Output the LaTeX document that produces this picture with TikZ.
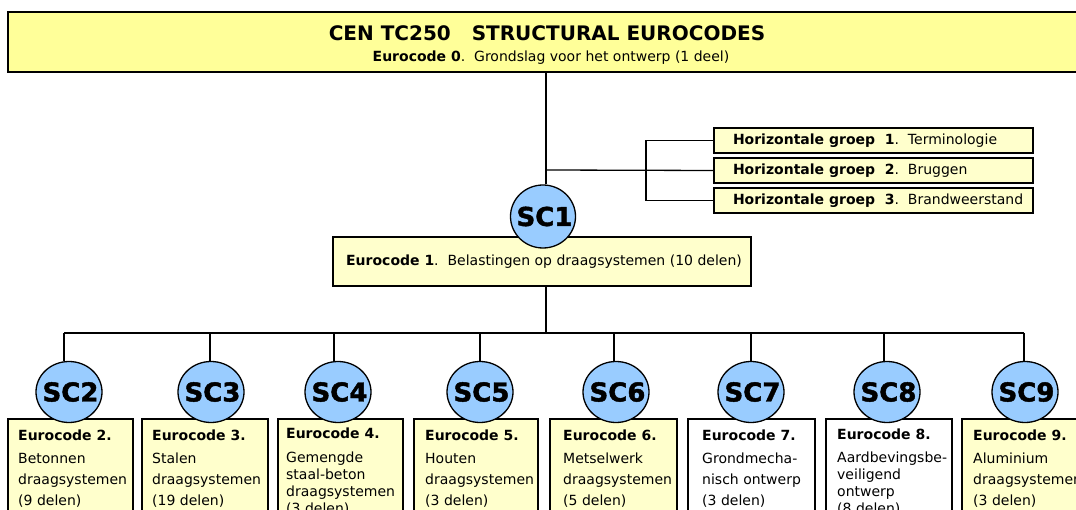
\documentclass[tikz,border=0pt]{standalone}
\usepackage{fontspec}
\setmainfont{DejaVu Sans}
\newfontfamily\scfont{DejaVu Sans}[BoldFeatures={FakeBold=1.6}]
\usetikzlibrary{shapes.geometric}
\definecolor{topyellow}{HTML}{FFFF99}
\definecolor{lightyellow}{HTML}{FFFFCC}
\definecolor{scblue}{HTML}{99CCFF}
\begin{document}
\begin{tikzpicture}[x=1pt,y=-1pt,
  conn/.style={line width=1.3pt, black},
  topbox/.style={draw, line width=1.7pt, fill=topyellow, rectangle, inner sep=0pt},
  gbox/.style={draw, line width=1.3pt, fill=lightyellow, rectangle, minimum width=319pt,
    minimum height=25pt, inner sep=0pt, font=\fontsize{14}{17}\selectfont},
  ecbox/.style={draw, line width=1.3pt, fill=lightyellow, rectangle, minimum width=418pt,
    minimum height=49pt, inner sep=0pt, font=\fontsize{14}{17}\selectfont},
  lbox/.style={draw, line width=1.3pt, rectangle, minimum height=111pt, inner sep=0pt},
  btext/.style={anchor=north west, inner sep=0pt, align=left, font=\fontsize{14}{21}\selectfont},
  btextb/.style={anchor=north west, inner sep=0pt, align=left, font=\fontsize{14}{17}\selectfont},
  sc/.style={ellipse, draw, line width=1.3pt, fill=scblue, minimum width=66pt, minimum height=61pt,
    inner sep=0pt, font=\fontsize{26}{26}\selectfont\scfont\bfseries}
]
\clip (0,0) rectangle (1076,510);
\fill[white] (0,0) rectangle (1076,510);

% ---- top box
\node[topbox, minimum width=1082pt, minimum height=60pt] (top) at (549,42) {};
\node[inner sep=0pt, font=\fontsize{20}{24}\selectfont\bfseries] (title) at (547,33)
  {CEN TC250\ \ \ STRUCTURAL EUROCODES};
\node[inner sep=0pt, font=\fontsize{14}{17}\selectfont] (subtitle) at (551,58)
  {\textbf{Eurocode 0}.\ \ Grondslag voor het ontwerp (1 deel)};

% ---- horizontal groups
\node[gbox] (g1) at (873.5,140.5) {\makebox[281pt][l]{\textbf{Horizontale groep\ \ 1}.\ \ Terminologie}};
\node[gbox] (g2) at (873.5,170.5) {\makebox[281pt][l]{\textbf{Horizontale groep\ \ 2}.\ \ Bruggen}};
\node[gbox] (g3) at (873.5,200.5) {\makebox[281pt][l]{\textbf{Horizontale groep\ \ 3}.\ \ Brandweerstand}};

% ---- Eurocode 1
\node[ecbox] (ec1) at (542,261.5) {\kern4pt\textbf{Eurocode 1}.\ \ Belastingen op draagsystemen (10 delen)};

% ---- bottom boxes
\node[lbox, fill=lightyellow, minimum width=125pt] (b2) at (70.5,474.5) {};
\node[lbox, fill=lightyellow, minimum width=126pt] (b3) at (205,474.5) {};
\node[lbox, fill=lightyellow, minimum width=125pt] (b4) at (340.5,474.5) {};
\node[lbox, fill=lightyellow, minimum width=124pt] (b5) at (476,474.5) {};
\node[lbox, fill=lightyellow, minimum width=127pt] (b6) at (613.5,474.5) {};
\node[lbox, fill=white, minimum width=127pt] (b7) at (751.5,474.5) {};
\node[lbox, fill=white, minimum width=126pt] (b8) at (889,474.5) {};
\node[lbox, fill=lightyellow, minimum width=140pt] (b9) at (1032,474.5) {};

\node[btext] (t2) at (18,429.4) {\textbf{Eurocode 2.}\\[2pt]Betonnen\\draagsystemen\\(9 delen)};
\node[btext] (t3) at (152,429.4) {\textbf{Eurocode 3.}\\[2pt]Stalen\\draagsystemen\\(19 delen)};
\node[btextb] (t4) at (286,427.4) {\textbf{Eurocode 4.}\\[7pt]Gemengde\\staal-beton\\draagsystemen\\(3 delen)};
\node[btext] (t5) at (425,429.4) {\textbf{Eurocode 5.}\\[2pt]Houten\\draagsystemen\\(3 delen)};
\node[btext] (t6) at (563,429.4) {\textbf{Eurocode 6.}\\[2pt]Metselwerk\\draagsystemen\\(5 delen)};
\node[btext] (t7) at (702,429.4) {\textbf{Eurocode 7.}\\[2pt]Grondmecha-\\nisch ontwerp\\(3 delen)};
\node[btextb] (t8) at (837,428.4) {\textbf{Eurocode 8.}\\[6pt]Aardbevingsbe-\\veiligend\\ontwerp\\(8 delen)};
\node[btext] (t9) at (973,429.4) {\textbf{Eurocode 9.}\\[2pt]Aluminium\\draagsystemen\\(3 delen)};

% ---- circles
\node[sc, minimum width=65pt, minimum height=63pt] (sc1) at (543,216.5) {\makebox[0pt]{\kern3pt SC1}};
\node[sc] (sc2) at (69,392) {\makebox[0pt]{\kern3pt SC2}};
\node[sc] (sc3) at (211,392) {\makebox[0pt]{\kern3pt SC3}};
\node[sc] (sc4) at (338,392) {\makebox[0pt]{\kern3pt SC4}};
\node[sc] (sc5) at (480,392) {\makebox[0pt]{\kern3pt SC5}};
\node[sc] (sc6) at (616,392) {\makebox[0pt]{\kern3pt SC6}};
\node[sc] (sc7) at (751,392) {\makebox[0pt]{\kern3pt SC7}};
\node[sc] (sc8) at (887,392) {\makebox[0pt]{\kern3pt SC8}};
\node[sc] (sc9) at (1025,392) {\makebox[0pt]{\kern3pt SC9}};

% ---- connectors
\coordinate (j) at (546,170);
\coordinate (brk) at (646,170);
\coordinate (bus) at (546,333);
\coordinate (d2) at (64,333);
\coordinate (d3) at (210,333);
\coordinate (d4) at (334,333);
\coordinate (d5) at (480,333);
\coordinate (d6) at (614,333);
\coordinate (d7) at (751,333);
\coordinate (d8) at (884,333);
\coordinate (d9) at (1024,333);
\draw[conn] (j |- top.south) -- (j |- sc1.north);
\draw[conn] (j) -- (g2.west);
\draw[conn] (g1.west) -- (g1.west -| brk) -- (g3.west -| brk) -- (g3.west);
\draw[conn] (bus |- ec1.south) -- (bus);
\draw[conn] (d2) -- (d9);
\foreach \i in {2,...,9} {\draw[conn] (d\i) -- (d\i |- sc\i.north);}
\end{tikzpicture}
\end{document}
